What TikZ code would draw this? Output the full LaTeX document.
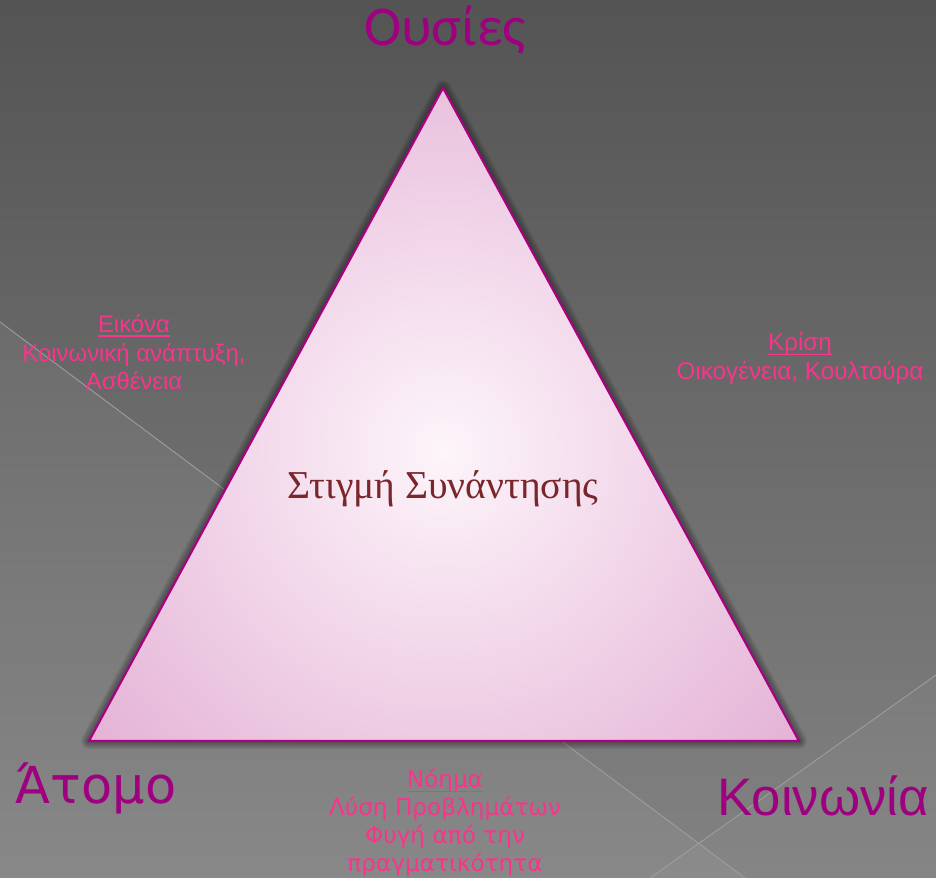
\documentclass[tikz,border=0pt]{standalone}
\usepackage{fontspec}
\setmainfont{Liberation Sans}
\newfontfamily\headfont{Carlito}
\newfontfamily\roundfont{DejaVu Sans}
\newfontfamily\midfont{Liberation Serif}
\usepackage{tikz}

\definecolor{vertexpurple}{RGB}{158,0,128}
\definecolor{notepink}{RGB}{250,52,140}
\definecolor{midred}{RGB}{122,38,44}
\definecolor{edgepurple}{RGB}{170,0,130}
\definecolor{bgtop}{RGB}{84,84,84}
\definecolor{bgbottom}{RGB}{130,130,130}

\newcommand{\noteul}[1]{\setbox0\hbox{#1}\leavevmode\rlap{\rule[-2.6pt]{\wd0}{0.9pt}}\box0}

\begin{document}
\begin{tikzpicture}[x=0.02cm, y=-0.02cm,
  vertex/.style={text=vertexpurple, inner sep=0pt, anchor=base},
  note/.style={text=notepink, inner sep=0pt, anchor=north, align=center},
  seam/.style={draw=white!62!black, line width=0.5pt},
  >=stealth
]
  \useasboundingbox (0,0) rectangle (936,878);
  % slide background with the two thin seams
  \shade[top color=bgtop, bottom color=bgbottom] (0,0) rectangle (936,878);
  \fill[white, opacity=0.05] (0,322) -- (745,878) -- (0,878) -- cycle;
  \fill[white, opacity=0.03] (936,675) -- (650,878) -- (936,878) -- cycle;
  \coordinate (s1a) at (0,322);
  \coordinate (s1b) at (745,878);
  \coordinate (s2a) at (936,675);
  \coordinate (s2b) at (650,878);
  \draw[seam] (s1a) -- (s1b);
  \draw[seam] (s2a) -- (s2b);

  % triangle with soft shadow
  \coordinate (apex) at (443,88);
  \coordinate (left) at (89,741);
  \coordinate (right) at (799,741);
  \foreach \w in {3,6,...,18}
    \draw[black, opacity=0.07, line width=\w*0.5pt, line join=round] (apex) -- (left) -- (right) -- cycle;
  \begin{scope}
    \clip (apex) -- (left) -- (right) -- cycle;
    \shade[inner color={rgb,255:red,253;green,245;blue,250}, outer color={rgb,255:red,206;green,120;blue,182}] (443,450) circle (860);
  \end{scope}
  \draw[edgepurple, line width=1.2pt, line join=miter] (apex) -- (left) -- (right) -- cycle;

  \node[vertex, font=\headfont\fontsize{32}{38}\selectfont] (ousies) at (445,46) {Ουσίες};
  \node[vertex, font=\roundfont\fontsize{29}{34}\selectfont] (atomo) at (96,803) {Άτομο};
  \node[vertex, font=\fontsize{30}{36}\selectfont] (koinonia) at (823,815) {Κοινωνία};

  \node[text=midred, inner sep=0pt, anchor=base, font=\midfont\fontsize{22.5}{26}\selectfont] (stigmi) at (443,498) {Στιγμή Συνάντησης};

  \node[note, font=\fontsize{13.6}{16.4}\selectfont] (eikona) at (134,314) {\noteul{Εικόνα}\\Κοινωνική ανάπτυξη,\\Ασθένεια};
  \node[note, font=\fontsize{13.8}{16.4}\selectfont] (krisi) at (800,332) {\noteul{Κρίση}\\Οικογένεια, Κουλτούρα};
  \node[note, font=\roundfont\fontsize{13.2}{15.8}\selectfont] (noima) at (445,769) {\noteul{Νόημα}\\Λύση Προβλημάτων\\Φυγή από την\\πραγματικότητα};
\end{tikzpicture}
\end{document}
